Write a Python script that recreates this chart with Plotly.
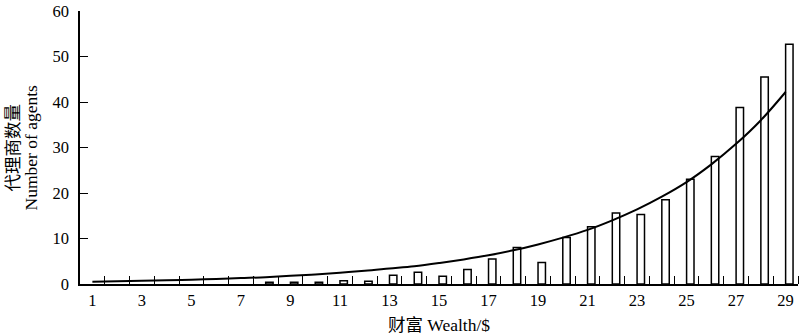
import plotly.graph_objects as go

wealth = list(range(1, 30))
agents = [0, 0, 0, 0, 0, 0, 0, 0.4, 0.4, 0.4, 0.7, 0.6, 1.9, 2.6, 1.7,
          3.2, 5.5, 8.0, 4.75, 10.2, 12.6, 15.6, 15.3, 18.5, 23.0,
          28.0, 38.8, 45.5, 52.7]
trend = [0.51, 0.60, 0.70, 0.82, 0.96, 1.1, 1.3, 1.5, 1.8, 2.1, 2.5, 2.9,
         3.4, 3.9, 4.6, 5.4, 6.3, 7.4, 8.7, 10.2, 11.9, 14.0, 16.4, 19.2,
         22.4, 26.3, 30.8, 36.0, 42.2]
x_ticks = list(range(1, 30, 2))
boundaries = [k + 0.5 for k in range(1, 30)]
y_ticks = [0, 10, 20, 30, 40, 50, 60]

font_fam = "Liberation Serif, Times New Roman, Noto Sans CJK SC, serif"

fig = go.Figure()
fig.add_trace(go.Bar(
    x=wealth, y=[v if v > 0 else None for v in agents], width=0.3, offset=0,
    marker=dict(color="white", line=dict(color="black", width=1.5)),
    showlegend=False,
))
fig.add_trace(go.Scatter(
    x=wealth, y=trend, mode="lines",
    line=dict(color="black", width=2, shape="spline"),
    showlegend=False,
))

fig.update_layout(
    width=800, height=335,
    margin=dict(l=80, r=2, t=7, b=51),
    plot_bgcolor="white", paper_bgcolor="white",
    font=dict(family=font_fam, size=17, color="black"),
    xaxis=dict(
        range=[0.5, 29.5], tickvals=x_ticks, ticktext=[str(v) for v in x_ticks],
        ticks="", showline=True, linecolor="black", linewidth=1.5,
        showgrid=False, zeroline=False,
        minor=dict(tickvals=boundaries, ticks="inside", ticklen=8,
                   tickcolor="black", tickwidth=1.2, showgrid=False),
        title=dict(text="财富 Wealth/$", font=dict(size=17.5), standoff=10),
        tickfont=dict(size=16.5),
    ),
    yaxis=dict(
        range=[0, 60], tickmode="array", tickvals=y_ticks,
        ticktext=[str(v) for v in y_ticks],
        ticks="inside", ticklen=8, ticklabeloverflow="allow",
        tickcolor="black", tickwidth=1.2, ticklabelstandoff=6,
        showline=True, linecolor="black", linewidth=1.5,
        showgrid=False, zeroline=False,
        tickfont=dict(size=16.5),
    ),
    annotations=[
        dict(text="代理商数量", textangle=-90, xref="paper", yref="paper",
             x=0, y=0.5, xanchor="center", yanchor="middle", xshift=-68,
             showarrow=False, font=dict(size=17.5)),
        dict(text="Number of agents", textangle=-90, xref="paper", yref="paper",
             x=0, y=0.5, xanchor="center", yanchor="middle", xshift=-50,
             showarrow=False, font=dict(size=17.5)),
    ],
)

fig.write_html("out.html")
